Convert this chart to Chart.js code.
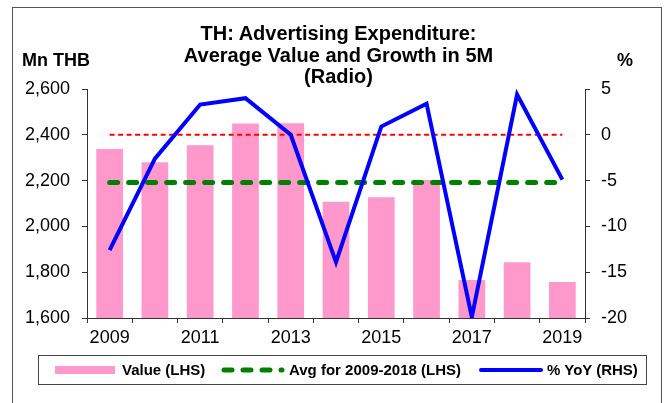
<!DOCTYPE html>
<html>
<head>
<meta charset="utf-8">
<script src="https://cdn.jsdelivr.net/npm/chart.js@4/dist/chart.umd.min.js"></script>
<style>
  body { margin: 0; background: #fff; font-family: "Liberation Sans", Arial, sans-serif; }
  #wrap { position: relative; width: 667px; height: 403px; overflow: hidden; }
  #frame { position: absolute; left: 12px; top: 7px; width: 648px; height: 420px; border: 1px solid #555; }
  canvas { position: absolute; left: 0; top: 0; }
  .txt { position: absolute; font-weight: bold; color: #000; white-space: nowrap; }
  #title { left: 5px; width: 667px; top: 23px; text-align: center; font-size: 20px; line-height: 21.7px; }
  #legend { position: absolute; left: 38px; top: 355px; width: 607px; height: 28px; border: 1px solid #444; }
  .sw { position: absolute; }
  .lt { position: absolute; top: 5px; font-size: 15px; font-weight: bold; }
</style>
</head>
<body>
<div id="wrap">
  <div id="frame"></div>
  <canvas id="chart" width="667" height="403"></canvas>
  <div id="title" class="txt">TH: Advertising Expenditure:<br>Average Value and Growth in 5M<br>(Radio)</div>
  <div class="txt" style="left:22px; top:50px; font-size:18px;">Mn THB</div>
  <div class="txt" style="left:617px; top:50px; font-size:18px;">%</div>
  <div id="legend">
    <div class="sw" style="left:16px; top:10px; width:60px; height:8px; background:#ff99cc;"></div>
    <div class="lt" style="left:83px;">Value (LHS)</div>
    <svg class="sw" style="left:180px; top:9px;" width="68" height="10">
      <line x1="5" y1="5" x2="63" y2="5" stroke="#008000" stroke-width="5" stroke-linecap="round" stroke-dasharray="8 11"></line>
    </svg>
    <div class="lt" style="left:250px;">Avg for 2009-2018 (LHS)</div>
    <div class="sw" style="left:440px; top:12px; width:64px; height:4px; border-radius:2px; background:#0000ff;"></div>
    <div class="lt" style="left:508px;">% YoY (RHS)</div>
  </div>
</div>
<script>
const years = ['2009', '2010', '2011', '2012', '2013', '2014', '2015', '2016', '2017', '2018', '2019'];
const value = [2338, 2280, 2354, 2449, 2450, 2108, 2127, 2203, 1766, 1843, 1757];
const avg = [2192, 2192, 2192, 2192, 2192, 2192, 2192, 2192, 2192, 2192, 2192];
const yoy = [-12.6, -2.6, 3.3, 4.0, 0.0, -13.9, 0.9, 3.4, -19.9, 4.4, -4.9];
const zeroLine = [0, 0, 0, 0, 0, 0, 0, 0, 0, 0, 0];

const tickFont = { family: '"Liberation Sans", Arial, sans-serif', size: 18 };

new Chart(document.getElementById('chart'), {
  type: 'bar',
  data: {
    labels: years,
    datasets: [
      {
        type: 'bar',
        label: 'Value (LHS)',
        data: value,
        yAxisID: 'y',
        backgroundColor: '#ff99cc',
        categoryPercentage: 1,
        barPercentage: 0.59,
        order: 4
      },
      {
        type: 'line',
        label: 'zero',
        data: zeroLine,
        yAxisID: 'y1',
        borderColor: '#ff0000',
        borderWidth: 2,
        borderDash: [5, 3.5],
        pointRadius: 0,
        order: 3
      },
      {
        type: 'line',
        label: 'Avg for 2009-2018 (LHS)',
        data: avg,
        yAxisID: 'y',
        borderColor: '#008000',
        borderWidth: 5,
        borderDash: [8, 11],
        borderCapStyle: 'round',
        pointRadius: 0,
        order: 2
      },
      {
        type: 'line',
        label: '% YoY (RHS)',
        data: yoy,
        yAxisID: 'y1',
        borderColor: '#0000ff',
        borderWidth: 4,
        pointRadius: 0,
        tension: 0,
        order: 1
      }
    ]
  },
  options: {
    responsive: false,
    animation: false,
    layout: { padding: { top: 89, bottom: 55, left: 0, right: 0 } },
    plugins: {
      legend: { display: false },
      title: { display: false },
      tooltip: { enabled: false }
    },
    scales: {
      x: {
        offset: true,
        grid: { offset: true, drawOnChartArea: false, tickLength: 5, color: '#333' },
        border: { color: '#333', width: 1 },
        ticks: {
          color: '#000',
          font: tickFont,
          padding: 4,
          autoSkip: false,
          maxRotation: 0,
          callback: function (v, i) { return i % 2 === 0 ? years[i] : ''; }
        },
        afterFit: function (s) { s.height = 30; }
      },
      y: {
        position: 'left',
        min: 1600,
        max: 2600,
        grid: { drawOnChartArea: false, tickLength: 5, color: '#333' },
        border: { color: '#333', width: 1 },
        ticks: {
          stepSize: 200,
          color: '#000',
          font: tickFont,
          padding: 12,
          callback: function (v) { return v.toLocaleString('en-US'); }
        },
        afterFit: function (s) { s.width = 87; }
      },
      y1: {
        position: 'right',
        min: -20,
        max: 5,
        grid: { drawOnChartArea: false, tickLength: 5, color: '#333' },
        border: { color: '#333', width: 1 },
        ticks: { stepSize: 5, color: '#000', font: tickFont, padding: 11 },
        afterFit: function (s) { s.width = 82; }
      }
    }
  }
});
</script>
</body>
</html>
